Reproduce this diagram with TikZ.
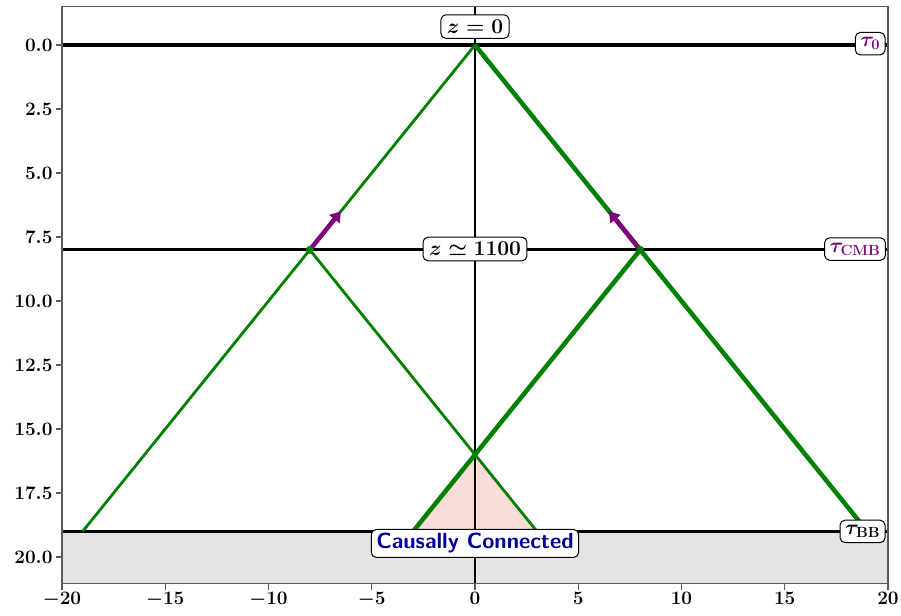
\RequirePackage{fix-cm}
\documentclass[tikz,border=0pt]{standalone}
\usepackage{amsmath}
\usetikzlibrary{arrows.meta}
\definecolor{lcgreen}{RGB}{0,128,0}
\definecolor{lcpurple}{RGB}{128,0,128}
\definecolor{lcpink}{RGB}{251,221,215}
\definecolor{lcgray}{RGB}{228,228,228}
\definecolor{lcnavy}{RGB}{0,0,150}
\definecolor{lcframe}{RGB}{90,90,90}
\tikzset{
  hline/.style={black, line width=3.2pt},
  vline/.style={black, line width=2.8pt},
  thinray/.style={lcgreen, line width=2.8pt},
  thickray/.style={lcgreen, line width=4.5pt},
  velarrow/.style={lcpurple, line width=4.5pt, -{Triangle[length=10pt,width=13pt]}},
  lbl/.style={draw=black, fill=white, rounded corners=5pt, line width=1pt,
    inner xsep=6pt, inner ysep=5pt, font=\fontsize{21}{25}\selectfont},
  ticklbl/.style={font=\fontsize{19}{22}\selectfont},
  tickmark/.style={lcframe, line width=1.2pt},
}
\begin{document}
\begin{tikzpicture}[x=20.65pt, y=-25.6pt, font=\fontsize{19}{22}\selectfont]
\useasboundingbox (-475pt,45pt) rectangle (426pt,-570pt);
% background regions
\fill[lcgray] (-20,19) rectangle (20,21.05);
% coordinates
\coordinate (O) at (0,0);
\coordinate (L) at (-8,8);
\coordinate (R) at (8,8);
\coordinate (X) at (0,16);
\coordinate (BL) at (-19,19);
\coordinate (BR) at (19,19);
\coordinate (CL) at (-3,19);
\coordinate (CR) at (3,19);
\coordinate (AL) at (-6.5,6.5);
\coordinate (AR) at (6.5,6.5);
\coordinate (h0a) at (-20,0); \coordinate (h0b) at (20,0);
\coordinate (h1a) at (-20,8); \coordinate (h1b) at (20,8);
\coordinate (h2a) at (-20,19); \coordinate (h2b) at (20,19);
\coordinate (vt) at (0,-1.5); \coordinate (vb) at (0,21.05);
% causally connected triangle
\fill[lcpink] (X) -- (CL) -- (CR) -- cycle;
% black lines
\draw[hline] (h0a) -- (h0b);
\draw[hline] (h1a) -- (h1b);
\draw[hline] (h2a) -- (h2b);
\draw[vline] (vt) -- (vb);
% light rays
\draw[thinray] (O) -- (BL);
\draw[thinray] (L) -- (CR);
\draw[thickray] (O) -- (R);
\draw[thickray] (R) -- (BR);
\draw[thickray] (R) -- (CL);
% velocity arrows
\draw[velarrow] (L) -- (AL);
\draw[velarrow] (R) -- (AR);
\fill[lcgreen] (L) circle (4pt);
\fill[lcgreen] (R) circle (4pt);
% labels
\node[lbl] (z0) at (0,-0.72) {$\boldsymbol{z=0}$};
\node[lbl] (zc) at (0,7.97) {$\boldsymbol{z\simeq1100}$};
\node[lbl, anchor=east, text=lcpurple, inner xsep=5pt] (t0) at (19.88,-0.05) {$\boldsymbol{\tau_0}$};
\node[lbl, anchor=east, text=lcpurple, inner xsep=5pt] (tc) at (19.9,7.97) {$\boldsymbol{\tau_{\mathrm{CMB}}}$};
\node[lbl, anchor=east, inner xsep=5pt] (tb) at (19.88,19.0) {$\boldsymbol{\tau_{\mathrm{BB}}}$};
\node[lbl, text=lcnavy, inner xsep=5pt, inner ysep=4pt, font=\fontsize{22}{26}\selectfont\sffamily\bfseries] (cc) at (0,19.47) {Causally Connected};
% frame
\draw[lcframe, line width=1.2pt] (-20,-1.5) rectangle (20,21.05);
% x ticks
\foreach \v in {-20,-15,-10,-5,0,5,10,15,20}{
  \draw[tickmark] (\v,21.05) -- ++(0pt,-6pt);
  \node[ticklbl, anchor=north, inner sep=0pt] (xt\v) at (\v,21.35) {$\boldsymbol{\v}$};
}
% y ticks
\foreach \v/\t in {0/0.0,2.5/2.5,5/5.0,7.5/7.5,10/10.0,12.5/12.5,15/15.0,17.5/17.5,20/20.0}{
  \draw[tickmark] (-20,\v) -- ++(-6pt,0pt);
  \node[ticklbl, anchor=east, inner sep=0pt] (yt\t) at (-20.45,\v) {$\boldsymbol{\t}$};
}
\end{tikzpicture}
\end{document}
